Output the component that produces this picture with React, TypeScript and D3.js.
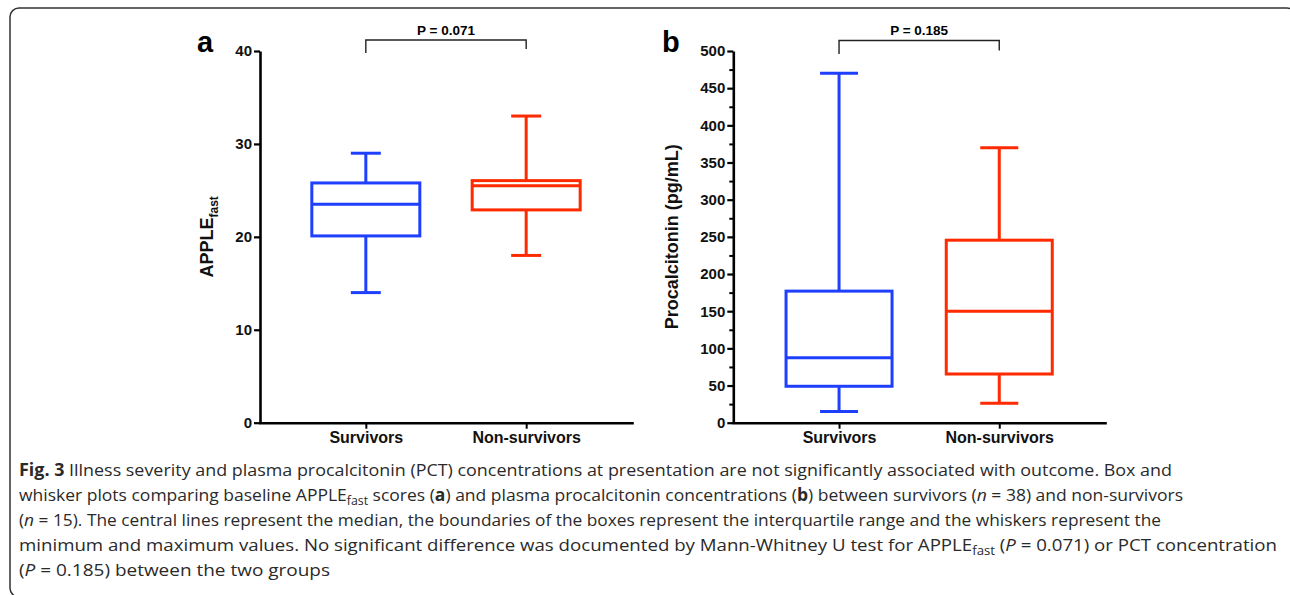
import React, { useEffect, useRef } from 'react';
import { select, axisLeft, axisBottom, scaleLinear, scalePoint, range } from 'd3';

// groups + box stats
const groups = ['Survivors', 'Non-survivors'];
const colors = ['#1f3fff', '#ff2a00'];

const appleMin = [14, 18];
const appleQ1 = [20.1, 22.9];
const appleMedian = [23.5, 25.5];
const appleQ3 = [25.8, 26.05];
const appleMax = [29, 33];
const appleTicks = [0, 10, 20, 30, 40];

const pctMin = [15, 26];
const pctQ1 = [49, 65.5];
const pctMedian = [87.5, 150];
const pctQ3 = [177, 245.5];
const pctMax = [470, 370];
const pctTicks = [0, 50, 100, 150, 200, 250, 300, 350, 400, 450, 500];

const pValues = ['P = 0.071', 'P = 0.185'];

const FONT = '"Liberation Sans", Arial, sans-serif';
const CAP_FONT = '"Open Sans", sans-serif';

function drawPanel(svg, opts) {
  const { x0, x1, yTop, yBottom, domain, ticks, minor, stats, capW, boxW, label, yLabel, pText, bracket } = opts;
  const g = svg.append('g');

  const xScale = scalePoint().domain(groups).range([x0, x1]).padding(0.66);
  const yScale = scaleLinear().domain(domain).range([yBottom, yTop]);

  // minor ticks (panel b only)
  if (minor) {
    g.append('g')
      .attr('transform', `translate(${x0},0)`)
      .call(axisLeft(yScale).tickValues(minor).tickSize(4).tickSizeOuter(0).tickFormat(() => ''))
      .call((a) => a.select('.domain').remove())
      .call((a) => a.selectAll('line').attr('stroke-width', 2));
  }

  const yAxis = g.append('g')
    .attr('transform', `translate(${x0},0)`)
    .call(axisLeft(yScale).tickValues(ticks).tickSize(6).tickPadding(2).tickSizeOuter(0));
  yAxis.select('.domain').attr('stroke-width', 2.6);
  yAxis.selectAll('line').attr('stroke-width', 2.2);
  yAxis.selectAll('text').attr('font-family', FONT).attr('font-weight', 'bold').attr('font-size', 15).attr('fill', '#111');

  const xAxis = g.append('g')
    .attr('transform', `translate(0,${yBottom})`)
    .call(axisBottom(xScale).tickSize(6).tickPadding(3).tickSizeOuter(0));
  xAxis.select('.domain').attr('stroke-width', 2.6).attr('stroke-linecap', 'square');
  xAxis.selectAll('line').attr('stroke-width', 2);
  xAxis.selectAll('text').attr('font-family', FONT).attr('font-weight', 'bold').attr('font-size', 16).attr('fill', '#111');

  // boxes
  groups.forEach((name, i) => {
    const cx = xScale(name);
    const col = colors[i];
    const b = g.append('g').attr('stroke', col).attr('stroke-width', 3).attr('fill', 'none');
    b.append('line').attr('x1', cx).attr('x2', cx).attr('y1', yScale(stats.max[i])).attr('y2', yScale(stats.q3[i]));
    b.append('line').attr('x1', cx).attr('x2', cx).attr('y1', yScale(stats.q1[i])).attr('y2', yScale(stats.min[i]));
    b.append('line').attr('x1', cx - capW / 2).attr('x2', cx + capW / 2).attr('y1', yScale(stats.max[i])).attr('y2', yScale(stats.max[i]));
    b.append('line').attr('x1', cx - capW / 2).attr('x2', cx + capW / 2).attr('y1', yScale(stats.min[i])).attr('y2', yScale(stats.min[i]));
    b.append('rect')
      .attr('x', cx - boxW / 2)
      .attr('y', yScale(stats.q3[i]))
      .attr('width', boxW)
      .attr('height', yScale(stats.q1[i]) - yScale(stats.q3[i]));
    b.append('line').attr('x1', cx - boxW / 2).attr('x2', cx + boxW / 2).attr('y1', yScale(stats.median[i])).attr('y2', yScale(stats.median[i]));
  });

  // significance bracket
  const bx0 = xScale(groups[0]);
  const bx1 = xScale(groups[1]);
  g.append('path')
    .attr('d', `M${bx0},${bracket[1]}V${bracket[0]}H${bx1}V${bracket[2]}`)
    .attr('fill', 'none')
    .attr('stroke', '#222')
    .attr('stroke-width', 1.4);
  g.append('text')
    .attr('x', (bx0 + bx1) / 2)
    .attr('y', 35)
    .attr('text-anchor', 'middle')
    .attr('font-family', FONT)
    .attr('font-weight', 'bold')
    .attr('font-size', 13.5)
    .text(pText);

  // panel letter
  g.append('text')
    .attr('x', label.x)
    .attr('y', 52)
    .attr('font-family', FONT)
    .attr('font-weight', 'bold')
    .attr('font-size', 29)
    .text(label.t);

  // y axis title
  const yt = g.append('text')
    .attr('transform', `translate(${yLabel.x},${(yTop + yBottom) / 2}) rotate(-90)`)
    .attr('text-anchor', 'middle')
    .attr('font-family', FONT)
    .attr('font-weight', 'bold')
    .attr('font-size', 18)
    .attr('fill', '#111');
  yt.append('tspan').text(yLabel.t);
  if (yLabel.sub) {
    yt.append('tspan').attr('font-size', 12).attr('dy', 5).text(yLabel.sub);
  }
}

function App() {
  const svgRef = useRef();

  useEffect(() => {
    const svg = select(svgRef.current).select('.plots');
    svg.selectAll('*').remove();

    drawPanel(svg, {
      x0: 260, x1: 632, yTop: 51, yBottom: 422.7,
      domain: [0, 40], ticks: appleTicks, minor: null,
      stats: { min: appleMin, q1: appleQ1, median: appleMedian, q3: appleQ3, max: appleMax },
      capW: 30, boxW: 108,
      label: { x: 197, t: 'a' },
      yLabel: { x: 213, t: 'APPLE', sub: 'fast' },
      pText: pValues[0],
      bracket: [40, 53, 49],
    });

    drawPanel(svg, {
      x0: 733.3, x1: 1105, yTop: 51, yBottom: 422.7,
      domain: [0, 500], ticks: pctTicks, minor: range(25, 500, 50),
      stats: { min: pctMin, q1: pctQ1, median: pctMedian, q3: pctQ3, max: pctMax },
      capW: 38, boxW: 106,
      label: { x: 662, t: 'b' },
      yLabel: { x: 678, t: 'Procalcitonin (pg/mL)' },
      pText: pValues[1],
      bracket: [40.5, 54, 50.5],
    });
  }, []);

  const capStyle = { fontFamily: CAP_FONT, fontSize: 17, fill: '#2a2a2a' };

  return (
    <svg ref={svgRef} width={1290} height={595} style={{ position: 'absolute', left: 0, top: 0, background: '#fff' }}>
      <rect x={10} y={8} width={1286} height={589} rx={9} fill="#fff" stroke="#333" strokeWidth={1.5} />
      <g className="plots" />
      <g style={capStyle}>
        <text x={19} y={476} textLength={1153} lengthAdjust="spacingAndGlyphs">
          <tspan fontWeight="bold">Fig. 3</tspan> Illness severity and plasma procalcitonin (PCT) concentrations at presentation are not significantly associated with outcome. Box and
        </text>
        <text x={19} y={501} textLength={1164} lengthAdjust="spacingAndGlyphs">
          whisker plots comparing baseline APPLE<tspan fontSize={12} dy={4}>fast</tspan><tspan dy={-4}> scores (</tspan><tspan fontWeight="bold">a</tspan>) and plasma procalcitonin concentrations (<tspan fontWeight="bold">b</tspan>) between survivors (<tspan fontStyle="italic">n</tspan> = 38) and non-survivors
        </text>
        <text x={19} y={526} textLength={1142} lengthAdjust="spacingAndGlyphs">
          (<tspan fontStyle="italic">n</tspan> = 15). The central lines represent the median, the boundaries of the boxes represent the interquartile range and the whiskers represent the
        </text>
        <text x={19} y={551} textLength={1258} lengthAdjust="spacingAndGlyphs">
          minimum and maximum values. No significant difference was documented by Mann-Whitney U test for APPLE<tspan fontSize={12} dy={4}>fast</tspan><tspan dy={-4}> (</tspan><tspan fontStyle="italic">P</tspan> = 0.071) or PCT concentration
        </text>
        <text x={19} y={576} textLength={311} lengthAdjust="spacingAndGlyphs">
          (<tspan fontStyle="italic">P</tspan> = 0.185) between the two groups
        </text>
      </g>
    </svg>
  );
}

export default App;
